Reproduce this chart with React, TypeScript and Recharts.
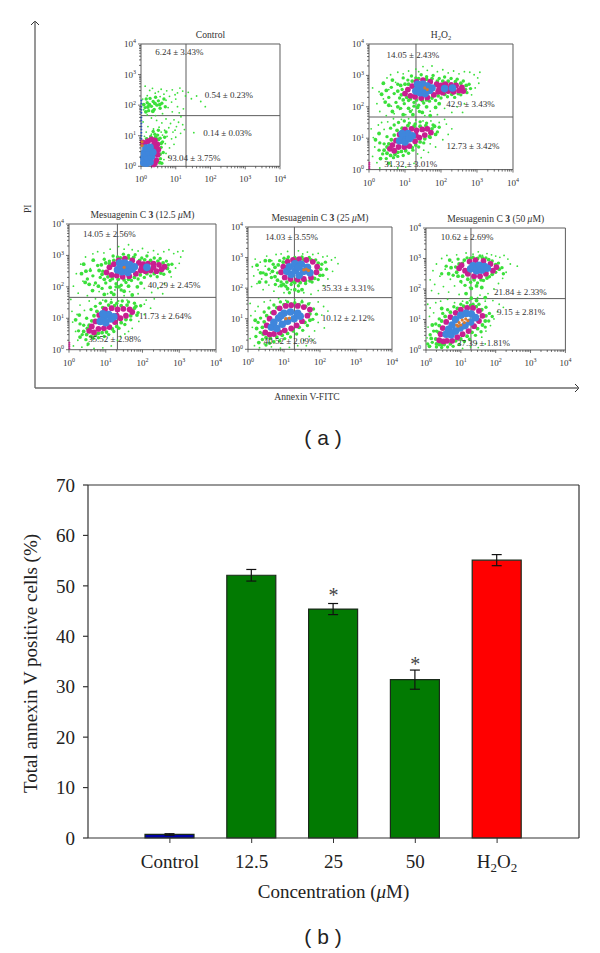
import React from 'react';
import {
  BarChart, Bar, Cell, ErrorBar, XAxis, YAxis, ScatterChart, Scatter,
  ReferenceLine, ReferenceDot,
} from 'recharts';

type Pt = [number, number];

// ---- panel (b) values ----
const barCategories = ['Control', '12.5', '25', '50', 'H2O2'];
const barValues = [0.7, 52.1, 45.4, 31.4, 55.1];
const barErrors = [0.15, 1.15, 1.1, 1.9, 1.1];
const barStars = [null, null, 48.2, 34.6, null];
const barTicks = [0, 10, 20, 30, 40, 50, 60, 70];
const barColors = ['#0000a6', '#027a02', '#027a02', '#027a02', '#ff0000'];

// ---- panel (a) values, all in log10 decades of fluorescence ----
const logMajor = [0, 1, 2, 3, 4];
const logMinor = [0.3, 0.48, 0.6, 0.7, 0.78, 0.85, 0.9, 0.95];

const controlSparse: Pt[] = [[.12,2.62],[.18,2.31],[.25,2.48],[.33,2.55],[.41,2.39],[.5,2.44],[.58,2.52],[.66,2.36],[.74,2.47],[.82,2.29],[.9,2.5],[.98,2.34],[1.05,2.4],[1.12,2.56],[1.2,2.46],[1.28,2.3],[1.36,2.42],[1.45,2.21],[1.6,2.3],[1.72,2.12],[1.85,1.95],[1.22,1.88],[1.05,1.95],[.9,1.78],[.78,1.92],[1.15,1.62],[.3,1.58],[.45,1.5],[.6,1.42],[.72,1.55],[.85,1.4],[.95,1.52],[1.08,1.44],[1.2,1.36],[.2,1.3],[.36,1.22],[.52,1.28],[.68,1.18],[.8,1.26],[.92,1.12],[1.02,1.3],[1.14,1.08],[1.25,1.2],[.15,1.12],[.3,1.05],[.62,1.02],[.75,.98],[.88,.9],[1,.95],[.7,.74],[.82,.6],[.95,.72],[.72,.42],[.66,.22],[.8,.3],[1.52,1.1],[.1,.98],[.06,1.45],[.08,1.85],[.05,2.2],[.55,2.28],[.72,2.16],[.88,2.1],[1,2.2],[.62,1.72],[.42,1.66],[.18,1.68],[1.1,1.75],[.98,1.18],[.58,1.12]];
const controlDense: Pt[] = [[.12,1.92],[.18,2.08],[.22,1.82],[.26,2.22],[.3,1.96],[.35,2.12],[.38,1.86],[.42,2.26],[.46,2],[.5,2.14],[.55,1.9],[.6,2.06],[.66,2.2],[.7,1.95],[.15,2.2],[.55,.92],[.48,1.02],[.62,.8],[.58,.62],[.64,.45],[.56,.25],[.6,.1],[.4,1.05],[.28,.98],[.68,.95],[.72,1.12],[.5,1.18],[.35,1.14]];
const controlMid: Pt[] = [[.08,2.02],[.24,2.02],[.4,2.06],[.34,1.8],[.14,1.78],[.54,2.02],[.2,1.94],[.58,.75],[.55,.4],[.5,.88],[.42,.95],[.3,.92],[.16,.9],[.54,.12]];
const controlMagenta: Pt[] = [[.1,.72],[.2,.82],[.3,.88],[.4,.85],[.47,.72],[.5,.55],[.48,.38],[.44,.2],[.36,.06],[.05,.78],[.42,.62],[.38,.74],[.42,.42],[.4,.1]];
const controlBlue: Pt[] = [[.08,.12],[.16,.1],[.26,.14],[.08,.28],[.18,.3],[.3,.32],[.1,.44],[.22,.48],[.34,.46],[.14,.6],[.26,.62]];
const controlEdge: Pt[] = [[.01,.9],[.01,1],[.01,1.1],[.01,1.2],[.01,1.3],[.01,1.4],[.01,1.5],[.01,1.6],[.01,1.75],[.01,1.85],[.01,1.95],[.01,2.05],[.01,2.15]];
const controlOrange: Pt[] = [[.03,.68],[.03,.8]];

const h2o2Sparse: Pt[] = [[.22,2.1],[.28,2.48],[.3,1.85],[.38,2.72],[.4,2.25],[.48,1.72],[.5,2.92],[.55,2.55],[.6,3.02],[.62,2.02],[.7,1.78],[.74,2.78],[.8,3.1],[.85,1.92],[.95,3.05],[1.02,1.75],[1.1,3.14],[1.2,1.9],[1.3,3.2],[1.38,3.12],[1.5,3.28],[1.62,3.16],[1.75,3.3],[1.9,3.12],[2.05,3.18],[2.2,3.08],[2.35,3.14],[2.5,3.05],[2.65,3.12],[2.8,3.1],[2.92,3.02],[3.02,2.92],[3.08,3.1],[3.05,2.75],[2.95,2.6],[2.85,2.38],[2.65,2.1],[2.45,2],[2.6,1.82],[2.3,1.82],[2.1,1.95],[1.9,1.75],[1.7,1.86],[1.55,1.72],[.1,2.6],[.06,1.3],[.12,1.02],[.16,.72],[.1,.42],[.22,.22],[.3,.05],[.35,1.5],[.42,1.28],[.26,1.42],[.52,1.52],[.68,1.62],[.9,1.6],[1.1,1.62],[1.3,1.58],[1.5,1.55],[1.72,1.55],[1.95,1.5],[2.15,1.45],[2.3,1.3],[2.1,1.6],[2.2,1.12],[2.05,.95],[1.85,.72],[1.65,.55],[1.45,.38],[1.25,.2],[1.02,.08],[.8,.05],[.62,.12],[1.7,.82],[1.52,.62],[1.35,.5]];
const h2o2Dense: Pt[] = [[.55,2.3],[.62,2.62],[.7,2.42],[.75,2.14],[.8,2.72],[.85,2.28],[.92,2.55],[.95,2.92],[.98,2.1],[1.08,2.85],[1.1,2.2],[1.18,2.98],[1.25,2.14],[1.3,2.92],[1.38,2.05],[1.45,3.02],[1.52,2.12],[1.6,2.96],[1.68,2.18],[1.78,3],[1.85,2.2],[1.95,2.9],[2,2.28],[2.1,2.95],[2.18,2.32],[2.28,2.9],[2.38,2.3],[2.45,2.88],[2.55,2.38],[2.62,2.82],[2.72,2.45],[2.78,2.72],[2.82,2.58],[1.15,1.85],[1.4,1.85],[1.25,2.02],[.88,1.95],[.42,.82],[.5,1.05],[.38,.5],[.48,.35],[.55,.2],[.6,1.32],[.68,.38],[.7,1.42],[.8,.42],[.82,1.5],[.95,.45],[.98,1.55],[1.1,.52],[1.12,1.48],[1.22,.62],[1.28,1.45],[1.38,.72],[1.42,1.52],[1.52,.85],[1.6,1.48],[1.7,1.02],[1.78,1.42],[1.9,1.2],[1.95,1.35],[.3,.85],[.28,.62]];
const h2o2Mid: Pt[] = [[.8,2.5],[.9,2.38],[.88,2.68],[.95,2.22],[1,2.72],[1.05,2.3],[1.1,2.72],[1.15,2.25],[1.2,2.82],[1.32,2.22],[1.38,2.9],[1.48,2.2],[1.6,2.88],[1.6,2.22],[1.75,2.9],[1.75,2.28],[1.9,2.82],[1.92,2.35],[2.05,2.82],[2.1,2.4],[2.2,2.82],[2.3,2.4],[2.4,2.8],[2.48,2.42],[2.55,2.75],[2.68,2.55],[2.7,2.68],[.65,2.85],[.48,2.52],[.4,2.75],[.42,.62],[.5,.52],[.55,.82],[.5,.72],[.6,.45],[.62,.95],[.7,1.1],[.72,.48],[.8,.55],[.78,1.25],[.9,.58],[.92,1.32],[1.02,.6],[1.08,1.4],[1.2,.7],[1.25,1.38],[1.3,.78],[1.42,.88],[1.42,1.38],[1.55,.98],[1.58,1.4],[1.68,1.05],[1.75,1.3],[1.85,1.12],[1.82,1.38],[1.1,1.95],[1.22,1.75],[1.35,1.98],[1.48,1.82],[1.6,2],[1.7,1.72],[1.85,1.98],[1.95,2.1],[.95,1.75],[.8,2],[.65,1.85],[.55,2.05],[.35,2.4],[.45,2.15],[.28,1.15],[.18,.95],[.32,.35]];
const h2o2Magenta: Pt[] = [[1,2.42],[1.08,2.55],[1.15,2.35],[1.2,2.66],[1.28,2.32],[1.32,2.8],[1.45,2.28],[1.5,2.85],[1.62,2.3],[1.7,2.8],[1.8,2.38],[1.88,2.72],[1.92,2.48],[2,2.68],[2.05,2.45],[2.12,2.72],[2.2,2.5],[2.28,2.7],[2.35,2.48],[2.42,2.68],[2.5,2.52],[2.58,2.62],[2.62,2.5],[1.95,2.58],[2.25,2.6],[.58,.66],[.65,.78],[.7,.6],[.75,.92],[.82,.72],[.85,1.12],[.98,.72],[1,1.28],[1.12,.75],[1.18,1.3],[1.28,.9],[1.32,1.25],[1.4,1.02],[1.48,1.28],[1.55,1.1],[1.62,1.3],[1.72,1.18],[1.3,1.1]];
const h2o2Edge: Pt[] = [[.01,.04],[.01,.1],[.01,.16],[.01,.22]];
const h2o2Blue: Pt[] = [[1.3,2.5],[1.38,2.62],[1.42,2.45],[1.5,2.72],[1.52,2.56],[1.56,2.42],[1.62,2.66],[1.68,2.52],[1.75,2.6],[1.35,2.72],[2.1,2.58],[2.32,2.6],[.85,.92],[.95,1.05],[1,.88],[1.08,1.15],[1.12,.98],[1.2,1.08],[.92,1.15]];
const h2o2Orange: Pt[] = [[1.55,2.6],[1.62,2.55]];

const mes12Sparse: Pt[] = [[.12,2.02],[.2,2.42],[.25,1.8],[.32,2.72],[.38,2.18],[.45,2.95],[.5,1.72],[.58,2.58],[.65,3.05],[.68,2.05],[.78,3.12],[.82,1.85],[.95,3.08],[1.05,1.78],[1.12,3.2],[1.25,1.9],[1.35,3.28],[1.5,3.2],[1.62,3.34],[1.72,3.18],[1.88,3.14],[2,3.22],[2.15,3.1],[2.3,3.15],[2.42,3.04],[2.58,3.12],[2.72,3.18],[2.85,3.06],[2.96,3.12],[3.04,2.95],[3.1,3.14],[3,2.75],[2.9,2.6],[2.78,2.32],[2.6,2.1],[2.42,1.95],[2.55,1.78],[2.25,1.82],[2.05,1.95],[1.88,1.78],[1.65,1.85],[1.5,1.72],[.05,1.6],[.08,1.22],[.1,.88],[.18,.58],[.24,.3],[.12,.12],[.35,.08],[.3,1.42],[.42,1.25],[.22,1.12],[.55,1.55],[.72,1.62],[.92,1.58],[1.15,1.6],[1.35,1.55],[1.58,1.58],[1.8,1.48],[2.05,1.45],[2.22,1.32],[2.1,1.58],[2.32,1.62],[2.05,1.12],[1.9,.9],[1.72,.68],[1.52,.5],[1.32,.3],[1.15,.12],[.92,.06],[.68,.04],[.5,.14],[1.62,.58],[1.4,.42]];
const mes12Dense: Pt[] = [[.5,2.25],[.58,2.52],[.65,2.35],[.72,2.12],[.78,2.68],[.85,2.3],[.92,2.5],[.96,2.88],[1,2.12],[1.1,2.82],[1.12,2.2],[1.2,2.98],[1.28,2.1],[1.32,2.95],[1.42,2.05],[1.48,3.04],[1.55,2.14],[1.62,3],[1.7,2.2],[1.8,3.02],[1.88,2.25],[1.98,2.92],[2.05,2.3],[2.12,2.98],[2.22,2.35],[2.32,2.92],[2.4,2.32],[2.48,2.9],[2.58,2.4],[2.65,2.82],[2.74,2.48],[2.8,2.72],[1.15,1.82],[1.42,1.9],[1.28,2],[.9,1.95],[.4,.78],[.48,1],[.36,.48],[.46,.32],[.52,.18],[.6,1.28],[.66,.36],[.72,1.38],[.8,.38],[.85,1.48],[.96,.42],[1,1.55],[1.08,.48],[1.15,1.5],[1.22,.58],[1.3,1.48],[1.36,.68],[1.45,1.55],[1.52,.8],[1.62,1.52],[1.68,.95],[1.78,1.48],[1.88,1.18],[1.95,1.4],[.3,.82],[.26,.6]];
const mes12Mid: Pt[] = [[.82,2.52],[.9,2.4],[.88,2.7],[.96,2.24],[1,2.76],[1.06,2.32],[1.1,2.74],[1.18,2.26],[1.22,2.84],[1.34,2.24],[1.4,2.92],[1.5,2.22],[1.62,2.92],[1.62,2.24],[1.76,2.94],[1.78,2.3],[1.92,2.84],[1.94,2.38],[2.06,2.86],[2.12,2.42],[2.22,2.84],[2.32,2.42],[2.42,2.82],[2.5,2.44],[2.56,2.76],[2.68,2.58],[2.7,2.7],[.66,2.85],[.46,2.5],[.4,2.72],[.4,.58],[.48,.48],[.55,.78],[.5,.68],[.6,.42],[.62,.92],[.68,1.08],[.72,.46],[.8,.52],[.76,1.22],[.9,.54],[.92,1.34],[1.02,.56],[1.08,1.42],[1.18,.66],[1.24,1.4],[1.3,.74],[1.42,.86],[1.42,1.4],[1.55,.96],[1.58,1.42],[1.68,1.08],[1.78,1.32],[1.85,1.1],[1.82,1.38],[1.12,1.98],[1.22,1.76],[1.36,2],[1.5,1.86],[1.62,2.02],[1.72,1.74],[1.86,2],[1.96,2.12],[.96,1.76],[.8,2.02],[.64,1.88],[.55,2.08],[.34,2.42],[.44,2.14],[.28,1.1],[.18,.95],[.3,.4]];
const mes12Magenta: Pt[] = [[1.02,2.46],[1.1,2.62],[1.16,2.38],[1.22,2.72],[1.3,2.36],[1.35,2.84],[1.46,2.32],[1.52,2.9],[1.64,2.34],[1.72,2.84],[1.82,2.42],[1.9,2.76],[1.95,2.52],[2.02,2.72],[2.08,2.5],[2.15,2.74],[2.22,2.52],[2.3,2.74],[2.38,2.5],[2.45,2.7],[2.52,2.56],[2.6,2.64],[1.98,2.62],[2.3,2.62],[.55,.6],[.62,.74],[.68,.55],[.72,.9],[.8,.66],[.82,1.1],[.95,.68],[.98,1.28],[1.1,.72],[1.16,1.32],[1.25,.88],[1.32,1.28],[1.4,1],[1.48,1.3],[1.55,1.08],[1.65,1.28],[1.72,1.2],[1.3,1.08]];
const mes12Edge: Pt[] = [[.01,.04],[.01,.1],[.01,.16],[.01,.22]];
const mes12Blue: Pt[] = [[1.32,2.54],[1.4,2.66],[1.44,2.48],[1.52,2.76],[1.55,2.6],[1.6,2.46],[1.65,2.7],[1.72,2.56],[1.78,2.64],[1.38,2.76],[2.12,2.62],[.85,.9],[.95,1.02],[1,.86],[1.08,1.12],[1.14,.98],[1.22,1.05],[.92,1.14]];
const mes12Orange: Pt[] = [[1.5,2.62]];

const mes25Sparse: Pt[] = [[.1,2.05],[.12,2.7],[.16,2.4],[.2,2.95],[.25,2.15],[.28,2.6],[.34,2.85],[.38,2.3],[.42,1.95],[.48,2.72],[.52,3.05],[.58,2.1],[.62,2.48],[.66,2.9],[.72,1.9],[.78,3.1],[.85,2.05],[.92,3.12],[1,1.85],[1.1,3.2],[1.2,1.95],[1.4,3.22],[1.52,3.12],[1.65,3.18],[1.8,3.1],[1.95,3.14],[2.08,3.02],[2.2,3.05],[2.32,2.92],[2.42,3],[2.5,2.8],[2.35,2.55],[2.22,2.3],[2.1,2.08],[1.95,1.92],[1.75,1.8],[1.55,1.85],[.06,1.5],[.08,1.1],[.12,.72],[.06,.35],[.18,.12],[.32,.05],[.28,1.4],[.45,1.55],[.2,1.25],[.62,1.6],[.85,1.66],[1.05,1.6],[1.3,1.62],[1.5,1.6],[1.72,1.52],[1.95,1.55],[2.1,1.4],[2.22,1.25],[2.05,1.12],[1.95,.88],[2.12,.7],[1.85,.6],[1.7,.42],[1.55,.3],[1.38,.12],[1.15,.06],[.9,.04],[.65,.08],[.45,.18],[1.62,.12],[1.8,.3]];
const mes25Dense: Pt[] = [[.42,2.5],[.5,2.2],[.58,2.62],[.65,2.35],[.7,2.78],[.76,2.12],[.82,2.5],[.88,2.9],[.92,2.2],[1,2.98],[1.05,2.06],[1.12,3.02],[1.2,2.12],[1.3,3],[1.4,2.08],[1.5,3.02],[1.6,2.15],[1.7,3],[1.78,2.2],[1.88,2.92],[1.95,2.28],[2.05,2.78],[2.08,2.42],[2.18,2.62],[2.15,2.85],[1.15,1.85],[1.4,1.9],[.34,.55],[.28,.88],[.4,.32],[.5,.14],[.35,1.02],[.45,1.22],[.6,.2],[.58,1.35],[.72,.25],[.72,1.45],[.88,.28],[.9,1.55],[1.02,.35],[1.1,1.55],[1.18,.4],[1.3,1.52],[1.35,.5],[1.5,1.55],[1.52,.62],[1.68,1.48],[1.65,.78],[1.82,1.32],[1.8,.98],[1.9,1.15],[.22,.42]];
const mes25Mid: Pt[] = [[.68,2.55],[.75,2.38],[.75,2.68],[.82,2.26],[.84,2.76],[.92,2.08],[.98,2.12],[.98,2.85],[1.08,2.2],[1.1,2.94],[1.22,2.22],[1.3,2.18],[1.35,2.94],[1.45,2.18],[1.55,2.94],[1.6,2.24],[1.72,2.24],[1.75,2.92],[1.85,2.32],[1.95,2.82],[2,2.42],[2.02,2.62],[.5,2.45],[.35,2.5],[.25,2.75],[.6,2.9],[.48,2.9],[.32,2.2],[1.3,1.95],[1.1,1.98],[1.5,1.95],[.42,.5],[.4,.72],[.45,.9],[.5,.38],[.52,1.1],[.62,.36],[.66,1.2],[.8,.4],[.8,1.36],[.95,.46],[1,1.46],[1.1,.52],[1.2,1.48],[1.26,.6],[1.42,1.46],[1.42,.72],[1.6,1.4],[1.58,.88],[1.72,1.16],[1.72,.95],[.24,.68],[.2,.95],[.3,.22]];
const mes25Magenta: Pt[] = [[.92,2.52],[.98,2.7],[1.02,2.35],[1.1,2.86],[1.18,2.3],[1.25,2.92],[1.38,2.28],[1.42,2.95],[1.55,2.3],[1.62,2.92],[1.75,2.35],[1.8,2.86],[1.9,2.52],[1.92,2.7],[.48,.55],[.52,.78],[.6,.48],[.6,1],[.72,.5],[.72,1.2],[.88,.55],[.88,1.34],[1.02,.62],[1.05,1.42],[1.2,.68],[1.2,1.44],[1.35,.78],[1.38,1.42],[1.5,.92],[1.55,1.38],[1.65,1.1],[1.72,1.3]];
const mes25Blue: Pt[] = [[1.08,2.55],[1.15,2.7],[1.2,2.45],[1.3,2.8],[1.32,2.58],[1.42,2.42],[1.48,2.78],[1.55,2.55],[1.65,2.68],[1.72,2.5],[1.4,2.68],[.65,.72],[.72,.88],[.8,.68],[.85,1.02],[.95,.82],[1,1.18],[1.1,.92],[1.18,1.22],[1.28,1],[1.38,1.18],[1.45,1.08],[.92,1.1]];
const mes25Orange: Pt[] = [[1.55,2.6],[1.62,2.62],[1.68,2.58],[1.05,1],[1.15,1.02]];

const mes50Sparse: Pt[] = [[.12,2.3],[.16,1.95],[.2,2.6],[.25,2.15],[.3,2.82],[.36,1.85],[.4,2.42],[.45,3],[.5,2.08],[.55,2.65],[.6,3.1],[.65,1.9],[.7,2.32],[.75,2.88],[.82,2.1],[.88,3.12],[.95,1.82],[1.02,2.2],[1.15,3.18],[1.25,2.05],[1.35,3.14],[1.5,3.22],[1.62,3.1],[1.75,3.16],[1.88,3.12],[2,3.08],[2.12,3.04],[2.24,3.1],[2.35,2.98],[2.42,2.82],[2.62,2.75],[2.3,2.55],[2.2,2.35],[2.08,2.18],[1.95,2],[1.78,1.85],[1.55,1.8],[.05,1.5],[.1,1.1],[.06,.75],[.03,.4],[.12,1.38],[.28,1.55],[.22,1.22],[.42,1.6],[.62,1.66],[.82,1.55],[1.05,1.6],[1.25,1.62],[1.48,1.72],[1.7,1.6],[1.92,1.62],[2.1,1.5],[2.05,1.25],[2.22,1.4],[1.95,1.02],[1.85,.8],[1.72,.62],[1.6,.42],[1.45,.22],[1.28,.1],[1.05,.05],[1.7,.2],[1.5,.08]];
const mes50Dense: Pt[] = [[.78,2.45],[.85,2.72],[.92,2.98],[1,2.25],[1.05,2.85],[1.12,2.12],[1.18,3.02],[1.28,2.22],[1.35,3.04],[1.48,2.2],[1.55,3.08],[1.65,2.28],[1.72,3.02],[1.82,2.4],[1.9,2.92],[2,2.55],[2.08,2.85],[2.18,2.7],[2.22,2.5],[.58,2.75],[.45,2.5],[.12,.5],[.18,.25],[.22,.62],[.05,.2],[.3,.1],[.28,.85],[.45,.08],[.3,.62],[.38,1.02],[.48,1.2],[.62,.1],[.62,1.32],[.78,.12],[.8,1.42],[.95,.18],[1,1.5],[1.1,.28],[1.18,1.55],[1.25,.35],[1.35,1.5],[1.42,.48],[1.52,1.5],[1.58,.6],[1.72,1.4],[1.7,.75],[1.82,1.2],[1.8,.95],[1.9,1.1]];
const mes50Mid: Pt[] = [[.88,2.55],[.92,2.42],[.95,2.82],[1.05,2.42],[1.1,2.95],[1.2,2.32],[1.28,3],[1.38,2.3],[1.48,3],[1.58,2.3],[1.62,3.02],[1.75,2.36],[1.8,2.96],[1.9,2.48],[2,2.8],[2.1,2.65],[.72,2.7],[.68,2.95],[.65,2.5],[1.45,2.1],[1.3,2.02],[1.6,2.05],[1.15,1.85],[.28,.36],[.3,.2],[.38,.18],[.36,.58],[.38,.8],[.45,.18],[.45,.95],[.52,.18],[.55,1.1],[.7,.2],[.7,1.24],[.85,.3],[.9,1.36],[1,.36],[1.08,1.44],[1.18,.45],[1.28,1.46],[1.32,.58],[1.44,1.42],[1.48,.7],[1.6,1.32],[1.62,.82],[1.72,1.12],[1.7,.95],[.15,.38],[.1,.12],[.18,.82],[.45,1.36],[1.45,1.62],[1.3,1.7],[1.7,1.72]];
const mes50Magenta: Pt[] = [[.95,2.68],[1.02,2.78],[1.12,2.6],[1.2,2.5],[1.25,2.9],[1.38,2.42],[1.42,2.95],[1.55,2.42],[1.65,2.92],[1.72,2.5],[1.85,2.82],[1.92,2.6],[2.02,2.72],[.38,.32],[.42,.52],[.5,.28],[.48,.72],[.6,.3],[.58,.92],[.75,.3],[.7,1.08],[.9,.42],[.85,1.22],[1.05,.52],[1,1.32],[1.22,.62],[1.18,1.38],[1.38,.78],[1.35,1.38],[1.52,.95],[1.52,1.28],[1.62,1.12]];
const mes50Blue: Pt[] = [[1.28,2.66],[1.35,2.76],[1.45,2.6],[1.52,2.78],[1.6,2.62],[1.68,2.74],[1.76,2.68],[.58,.52],[.65,.68],[.72,.5],[.75,.82],[.85,.62],[.85,1],[.98,.72],[1,1.14],[1.12,.8],[1.15,1.2],[1.28,.92],[1.3,1.18],[1.42,1.06]];
const mes50Orange: Pt[] = [[.88,.82],[.95,.9],[1,.82],[1.04,.98],[1.1,.9],[1.14,1.02],[1.2,.96],[.92,.78]];

const noPoints: Pt[] = [];

const panels = [
  {
    title: 'control', left: 141.3, right: 280.3, top: 43.7, bottom: 166, gateX: 1.295, gateY: 1.657,
    sparse: controlSparse, dense: controlDense, mid: controlMid, magenta: controlMagenta, blue: controlBlue, edge: controlEdge, edgeHot: noPoints, orange: controlOrange,
    notes: [['6.24 ± 3.43%', 1.105, 3.73], ['0.54 ± 0.23%', 2.53, 2.33], ['0.14 ± 0.03%', 2.49, 1.09], ['93.04 ± 3.75%', 1.53, 0.29]],
  },
  {
    title: 'h2o2', left: 368.7, right: 512.7, top: 43.7, bottom: 169.3, gateX: 1.305, gateY: 1.675,
    sparse: h2o2Sparse, dense: h2o2Dense, mid: h2o2Mid, magenta: h2o2Magenta, blue: h2o2Blue, edge: noPoints, edgeHot: h2o2Edge, orange: h2o2Orange,
    notes: [['14.05 ± 2.43%', 1.22, 3.66], ['42.9 ± 3.43%', 2.82, 2.09], ['12.73 ± 3.42%', 2.89, 0.77], ['31.32 ± 3.01%', 1.16, 0.18]],
  },
  {
    title: '12.5', left: 69.3, right: 216.3, top: 224.3, bottom: 350, gateX: 1.317, gateY: 1.665,
    sparse: mes12Sparse, dense: mes12Dense, mid: mes12Mid, magenta: mes12Magenta, blue: mes12Blue, edge: noPoints, edgeHot: mes12Edge, orange: mes12Orange,
    notes: [['14.05 ± 2.56%', 1.1, 3.68], ['40.29 ± 2.45%', 2.86, 2.05], ['11.73 ± 2.64%', 2.62, 1.07], ['35.52 ± 2.98%', 1.24, 0.35]],
  },
  {
    title: '25', left: 248.3, right: 392.3, top: 226.7, bottom: 349, gateX: 1.289, gateY: 1.69,
    sparse: mes25Sparse, dense: mes25Dense, mid: mes25Mid, magenta: mes25Magenta, blue: mes25Blue, edge: noPoints, edgeHot: noPoints, orange: mes25Orange,
    notes: [['14.03 ± 3.55%', 1.21, 3.68], ['35.33 ± 3.31%', 2.78, 2.02], ['10.12 ± 2.12%', 2.78, 1.04], ['40.52 ± 2.09%', 1.17, 0.28]],
  },
  {
    title: '50', left: 426.3, right: 565.7, top: 227.7, bottom: 349.7, gateX: 1.29, gateY: 1.685,
    sparse: mes50Sparse, dense: mes50Dense, mid: mes50Mid, magenta: mes50Magenta, blue: mes50Blue, edge: noPoints, edgeHot: noPoints, orange: mes50Orange,
    notes: [['10.62 ± 2.69%', 1.18, 3.7], ['21.84 ± 2.33%', 2.71, 1.92], ['9.15 ± 2.81%', 2.73, 1.24], ['37.39 ± 1.81%', 1.65, 0.23]],
  },
];

const SERIF = '"Liberation Serif", serif';
const INK = '#333';
const FRAME = '#5c5c5c';

const logTicks = [...logMajor, ...logMajor.slice(0, 4).flatMap(d => logMinor.map(m => d + m))].sort((a, b) => a - b);

const toPoints = (pts: Pt[]) => pts.map(([x, y]) => ({ x, y }));
const dot = (r: number, fill: string) => (p: any) => <circle cx={p.cx} cy={p.cy} r={r} fill={fill} />;

const LogXTick = ({ x, y, payload }: any) => {
  const major = Number.isInteger(payload.value);
  return (
    <g>
      <line x1={x} x2={x} y1={y} y2={y + (major ? 3 : 2)} stroke="#333" strokeWidth={0.7} />
      {major && (
        <text x={x} y={y + 16} textAnchor="middle" fontFamily={SERIF} fontSize={9} fill={INK}>
          10<tspan dy={-3.5} fontSize={6}>{payload.value}</tspan>
        </text>
      )}
    </g>
  );
};

const LogYTick = ({ x, y, payload }: any) => {
  const major = Number.isInteger(payload.value);
  return (
    <g>
      <line x1={x} x2={x - (major ? 3 : 2)} y1={y} y2={y} stroke="#333" strokeWidth={0.7} />
      {major && (
        <text x={x - 5} y={y + 3} textAnchor="end" fontFamily={SERIF} fontSize={9} fill={INK}>
          10<tspan dy={-3.5} fontSize={6}>{payload.value}</tspan>
        </text>
      )}
    </g>
  );
};

const PanelTitle = ({ kind, x, y }: { kind: string; x: number; y: number }) => {
  const common = { x, y, textAnchor: 'middle' as const, fontFamily: SERIF, fontSize: 9.6, fill: INK };
  if (kind === 'control') return <text {...common}>Control</text>;
  if (kind === 'h2o2') {
    return (
      <text {...common}>
        H<tspan dy={2} fontSize={6.5}>2</tspan><tspan dy={-2}>O</tspan><tspan dy={2} fontSize={6.5}>2</tspan>
      </text>
    );
  }
  return (
    <text {...common}>
      Mesuagenin C <tspan fontWeight="bold">3</tspan> ({kind} <tspan fontStyle="italic">μ</tspan>M)
    </text>
  );
};

const FlowPanel = ({ panel }: { panel: (typeof panels)[number] }) => {
  const pad = { left: 40, right: 25, top: 20, bottom: 25 };
  const plotW = panel.right - panel.left;
  const plotH = panel.bottom - panel.top;
  return (
    <div style={{ position: 'absolute', left: panel.left - pad.left, top: panel.top - pad.top }}>
      <ScatterChart width={plotW + pad.left + pad.right} height={plotH + pad.top + pad.bottom}
        margin={{ left: pad.left - 1, right: pad.right, top: pad.top, bottom: pad.bottom - 1 }}>
        <XAxis type="number" dataKey="x" domain={[0, 4]} ticks={logTicks} interval={0} height={1}
          tick={<LogXTick />} tickLine={false} tickSize={0} tickMargin={0} stroke={FRAME} />
        <YAxis type="number" dataKey="y" domain={[0, 4]} ticks={logTicks} interval={0} width={1}
          tick={<LogYTick />} tickLine={false} tickSize={0} tickMargin={0} stroke={FRAME} />
        <Scatter data={toPoints(panel.sparse)} shape={dot(0.9, '#3be03b')} isAnimationActive={false} />
        <Scatter data={toPoints(panel.dense)} shape={dot(1.7, '#3be03b')} isAnimationActive={false} />
        <Scatter data={toPoints(panel.mid)} shape={dot(1.9, '#3be03b')} isAnimationActive={false} />
        <Scatter data={toPoints(panel.magenta)} shape={dot(2.9, '#c81f90')} isAnimationActive={false} />
        <Scatter data={toPoints(panel.blue)} shape={dot(3.8, '#3f86dc')} isAnimationActive={false} />
        <Scatter data={toPoints(panel.edge)} shape={dot(1, '#2a55b8')} isAnimationActive={false} />
        <Scatter data={toPoints(panel.edgeHot)} shape={dot(1, '#c81f90')} isAnimationActive={false} />
        <Scatter data={toPoints(panel.orange)} shape={dot(1.6, '#d8792e')} isAnimationActive={false} />
        <ReferenceLine x={4} stroke={FRAME} />
        <ReferenceLine y={4} stroke={FRAME} />
        <ReferenceLine x={panel.gateX} stroke={FRAME} />
        <ReferenceLine y={panel.gateY} stroke={FRAME} />
        {panel.notes.map(([text, x, y]) => (
          <ReferenceDot key={String(text)} x={x as number} y={y as number} r={0} stroke="none"
            label={{ value: text as string, position: 'center', fontFamily: SERIF, fontSize: 9, fill: INK }} />
        ))}
        <PanelTitle kind={panel.title} x={pad.left + plotW / 2} y={pad.top - 5.5} />
      </ScatterChart>
    </div>
  );
};

const OuterAxes = () => (
  <div style={{ position: 'absolute', left: 0, top: 0 }}>
    <ScatterChart width={600} height={420} margin={{ left: 34, right: 21, top: 21, bottom: 31 }}>
      <XAxis type="number" dataKey="x" domain={[0, 1]} tick={false} tickLine={false} height={1} stroke="#6b6b6b" strokeWidth={1.4}
        label={{ value: 'Annexin V-FITC', position: 'bottom', offset: 4, fontFamily: SERIF, fontSize: 9.6, fill: INK }} />
      <YAxis type="number" dataKey="y" domain={[0, 1]} tick={false} tickLine={false} width={1} stroke="#6b6b6b" strokeWidth={1.4}
        label={{ value: 'PI', angle: -90, position: 'left', offset: 6, fontFamily: SERIF, fontSize: 9.6, fill: INK }} />
      <path d="M31 25 L35 21 L39 25" fill="none" stroke="#333" strokeWidth={1} />
      <path d="M575 384 L579 388 L575 392" fill="none" stroke="#333" strokeWidth={1} />
    </ScatterChart>
  </div>
);

const barData = barCategories.map((name, i) => ({ name, value: barValues[i], err: barErrors[i] }));

const BarXTick = ({ x, y, payload }: any) => {
  const common = { x, y: y + 30, textAnchor: 'middle' as const, fontFamily: SERIF, fontSize: 19, fill: '#222' };
  return (
    <g>
      <line x1={x} x2={x} y1={y} y2={y + 5} stroke="#333" strokeWidth={1} />
      {payload.value === 'H2O2' ? (
        <text {...common}>
          H<tspan dy={4} fontSize={13}>2</tspan><tspan dy={-4}>O</tspan><tspan dy={4} fontSize={13}>2</tspan>
        </text>
      ) : (
        <text {...common}>{payload.value}</text>
      )}
    </g>
  );
};

const TotalBars = () => (
  <div style={{ position: 'absolute', left: 0, top: 470 }}>
    <BarChart width={600} height={440} data={barData} margin={{ left: 87, right: 20, top: 14, bottom: 71 }}>
      <XAxis dataKey="name" height={1} interval={0} padding={{ left: 41, right: 41 }} tick={<BarXTick />}
        tickLine={false} tickSize={0} tickMargin={0} stroke="#333" strokeWidth={1.2} />
      <XAxis xAxisId="top" dataKey="name" orientation="top" height={1} tick={false} tickLine={false} stroke="#333" strokeWidth={1.2} />
      <YAxis domain={[0, 70]} ticks={barTicks} width={1} interval={0} tickSize={5} tickMargin={8} stroke="#333" strokeWidth={1.2}
        tick={{ fontFamily: SERIF, fontSize: 19, fill: '#222' }} />
      <YAxis yAxisId="right" orientation="right" domain={[0, 70]} width={1} tick={false} tickLine={false} stroke="#333" strokeWidth={1.2} />
      <Bar dataKey="value" barSize={49} stroke="#1a2a1a" strokeWidth={1.2} isAnimationActive={false}>
        {barData.map((d, i) => <Cell key={d.name} fill={barColors[i]} />)}
        <ErrorBar dataKey="err" width={5} stroke="#111" strokeWidth={1.2} isAnimationActive={false} />
      </Bar>
      {barCategories.map((name, i) => barStars[i] !== null && (
        <ReferenceDot key={name} x={name} y={barStars[i] as number} r={0} stroke="none"
          label={{ value: '*', position: 'center', fontFamily: SERIF, fontSize: 20, fill: '#444' }} />
      ))}
      <text x={37} y={193.5} transform="rotate(-90 37 193.5)" textAnchor="middle" fontFamily={SERIF} fontSize={19} fill="#222">
        Total annexin V positive cells (%)
      </text>
      <text x={333.5} y={428} textAnchor="middle" fontFamily={SERIF} fontSize={19} fill="#222">
        Concentration (<tspan fontStyle="italic">μ</tspan>M)
      </text>
    </BarChart>
  </div>
);

const PartLabel = ({ text, top }: { text: string; top: number }) => (
  <div style={{ position: 'absolute', left: 263, width: 120, top, textAlign: 'center', fontFamily: '"Liberation Sans", sans-serif', fontSize: 21, lineHeight: '24px', color: '#222', whiteSpace: 'pre' }}>
    {text}
  </div>
);

export default function App() {
  return (
    <div style={{ position: 'absolute', left: 0, top: 0, width: 600, height: 953, background: '#fff' }}>
      <OuterAxes />
      {panels.map(p => <FlowPanel key={p.title} panel={p} />)}
      <PartLabel text="( a )" top={426} />
      <TotalBars />
      <PartLabel text="( b )" top={925} />
    </div>
  );
}
